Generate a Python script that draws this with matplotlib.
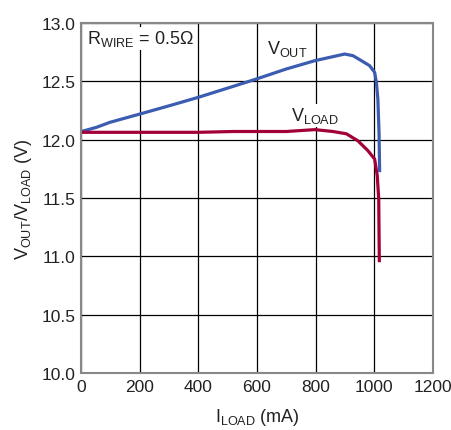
import matplotlib
matplotlib.use('Agg')
import matplotlib.pyplot as plt
from matplotlib import font_manager

# fonts: narrow sans if we have it
names = {f.name for f in font_manager.fontManager.ttflist}
FONT = 'Liberation Sans Narrow' if 'Liberation Sans Narrow' in names else 'Liberation Sans'
plt.rcParams['font.family'] = [FONT, 'DejaVu Sans']
plt.rcParams['mathtext.fontset'] = 'custom'
plt.rcParams['mathtext.rm'] = FONT
plt.rcParams['mathtext.it'] = FONT

# V_OUT curve (mA, V)
I_OUT = [0, 53, 99, 201, 300, 400, 519, 598, 700, 797, 899, 927, 956, 984, 1001, 1007, 1012, 1016, 1018]
V_OUT = [12.069, 12.106, 12.149, 12.22, 12.29, 12.363, 12.457, 12.52, 12.606, 12.677, 12.734, 12.72,
         12.677, 12.634, 12.577, 12.49, 12.35, 12.06, 11.735]

# V_LOAD curve
I_LOAD = [0, 200, 400, 519, 700, 797, 859, 905, 944, 978, 1001, 1010, 1015, 1016, 1017]
V_LOAD = [12.063, 12.063, 12.063, 12.07, 12.07, 12.086, 12.07, 12.05, 11.99, 11.906, 11.834, 11.69,
          11.49, 11.206, 10.963]

X_TICKS = [0, 200, 400, 600, 800, 1000, 1200]
Y_TICKS = [10.0, 10.5, 11.0, 11.5, 12.0, 12.5, 13.0]

BLUE = '#3b5cb0'
RED = '#a3003a'
FS = 13


def main():
    fig = plt.figure(figsize=(4.51, 4.31), dpi=100)
    ax = fig.add_axes([0.1796, 0.1323, 0.7805, 0.812])

    ax.plot(I_OUT, V_OUT, color=BLUE, lw=2.3, solid_joinstyle='round')
    ax.plot(I_LOAD, V_LOAD, color=RED, lw=2.3, solid_joinstyle='round')

    ax.set_xlim(0, 1200)
    ax.set_ylim(10.0, 13.0)
    ax.set_xticks(X_TICKS)
    ax.set_yticks(Y_TICKS)
    ax.set_yticklabels([f'{v:.1f}' for v in Y_TICKS])
    ax.tick_params(length=0, labelsize=12.5, pad=4, colors='#222222')
    ax.grid(True, color='black', lw=0.9)
    ax.set_axisbelow(True)
    for s in ax.spines.values():
        s.set_color('#888888')
        s.set_linewidth(1.5)

    ax.set_xlabel(r'$\mathregular{I_{LOAD}}$ (mA)', fontsize=FS, labelpad=9, color='#222222')
    ax.set_ylabel(r'$\mathregular{V_{OUT}/V_{LOAD}}$ (V)', fontsize=FS, labelpad=5, color='#222222')

    ax.text(22, 12.87, r'$\mathregular{R_{WIRE}}$ = 0.5Ω', fontsize=FS, va='center',
            color='#222222', bbox=dict(facecolor='white', edgecolor='none', pad=1))
    ax.text(635, 12.79, r'$\mathregular{V_{OUT}}$', fontsize=FS, va='center', color='#222222')
    ax.text(715, 12.21, r'$\mathregular{V_{LOAD}}$', fontsize=FS, va='center', color='#222222',
            bbox=dict(facecolor='white', edgecolor='none', pad=1))

    fig.savefig('out.png', dpi=100)


if __name__ == '__main__':
    main()
